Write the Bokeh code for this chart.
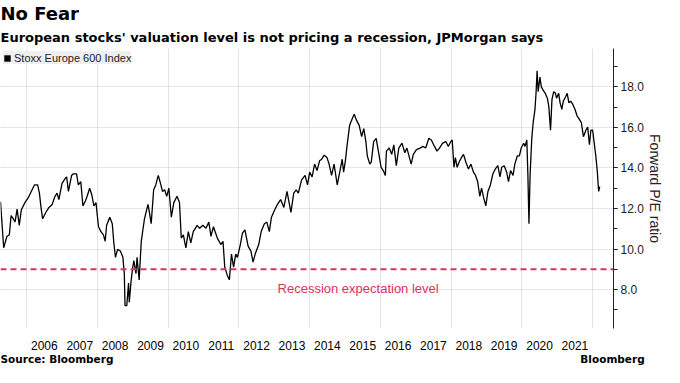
from bokeh.plotting import figure
from bokeh.models import (Range1d, FixedTicker, SingleIntervalTicker, NumeralTickFormatter,
                          Span, Label, Title, Legend, LegendItem, LinearAxis)
from bokeh.embed import file_html
from bokeh.resources import INLINE

# ---- data (decimal years, forward P/E) ----
dates = [
    2005.26, 2005.35, 2005.44, 2005.51, 2005.56, 2005.62, 2005.67, 2005.73, 2005.79, 2005.85,
    2005.95, 2006.04, 2006.13, 2006.22, 2006.31, 2006.36, 2006.40, 2006.45, 2006.54, 2006.63,
    2006.72, 2006.80, 2006.86, 2006.91, 2007.00, 2007.09, 2007.13, 2007.18, 2007.27, 2007.32,
    2007.41, 2007.46, 2007.53, 2007.59, 2007.66, 2007.71, 2007.78, 2007.84, 2007.90, 2007.96,
    2008.03, 2008.10, 2008.17, 2008.22, 2008.26, 2008.35, 2008.42, 2008.46, 2008.51, 2008.57,
    2008.65, 2008.72, 2008.76, 2008.78, 2008.83, 2008.88, 2008.90, 2008.95, 2009.00, 2009.03,
    2009.09, 2009.12, 2009.18, 2009.24, 2009.29, 2009.33, 2009.43, 2009.47, 2009.52, 2009.59,
    2009.65, 2009.72, 2009.77, 2009.84, 2009.90, 2009.96, 2010.02, 2010.09, 2010.16, 2010.25,
    2010.32, 2010.37, 2010.43, 2010.50, 2010.57, 2010.64, 2010.71, 2010.82, 2010.89, 2010.98,
    2011.07, 2011.15, 2011.21, 2011.28, 2011.39, 2011.49, 2011.55, 2011.60, 2011.67, 2011.73,
    2011.79, 2011.85, 2011.91, 2011.96, 2012.04, 2012.10, 2012.17, 2012.26, 2012.34, 2012.40,
    2012.46, 2012.56, 2012.63, 2012.72, 2012.79, 2012.86, 2012.92, 2013.00, 2013.09, 2013.18,
    2013.27, 2013.36, 2013.47, 2013.55, 2013.62, 2013.68, 2013.77, 2013.87, 2013.94, 2014.00,
    2014.07, 2014.14, 2014.21, 2014.28, 2014.34, 2014.41, 2014.49, 2014.55, 2014.62, 2014.69,
    2014.78, 2014.85, 2014.92, 2014.96, 2015.01, 2015.06, 2015.13, 2015.20, 2015.26, 2015.33,
    2015.40, 2015.47, 2015.53, 2015.59, 2015.63, 2015.70, 2015.74, 2015.81, 2015.88, 2015.95,
    2016.02, 2016.08, 2016.14, 2016.17, 2016.25, 2016.32, 2016.38, 2016.45, 2016.52, 2016.61,
    2016.69, 2016.75, 2016.82, 2016.87, 2016.93, 2017.02, 2017.12, 2017.21, 2017.28, 2017.37,
    2017.44, 2017.53, 2017.60, 2017.67, 2017.76, 2017.85, 2017.92, 2017.99, 2018.03, 2018.08,
    2018.12, 2018.17, 2018.22, 2018.29, 2018.35, 2018.42, 2018.49, 2018.56, 2018.63, 2018.69,
    2018.75, 2018.81, 2018.86, 2018.92, 2018.98, 2019.04, 2019.11, 2019.18, 2019.25, 2019.32,
    2019.38, 2019.43, 2019.50, 2019.57, 2019.62, 2019.68, 2019.75, 2019.80, 2019.87, 2019.93,
    2019.98, 2020.05, 2020.09, 2020.14, 2020.17, 2020.20, 2020.23, 2020.28, 2020.32, 2020.37,
    2020.40, 2020.43, 2020.46, 2020.51, 2020.55, 2020.60, 2020.66, 2020.72, 2020.76, 2020.81,
    2020.85, 2020.90, 2020.95, 2020.98, 2021.04, 2021.08, 2021.13, 2021.17, 2021.24, 2021.28,
    2021.33, 2021.38, 2021.44, 2021.50, 2021.56, 2021.62, 2021.68, 2021.74, 2021.81, 2021.86,
    2021.91, 2021.95, 2022.00, 2022.04, 2022.09, 2022.13, 2022.17, 2022.20,
]
pe = [
    12.33, 10.06, 10.62, 10.70, 11.65, 11.50, 11.33, 11.97, 11.17, 11.94,
    12.29, 12.52, 12.84, 13.16, 13.16, 12.76, 12.13, 11.49, 11.80, 12.05,
    12.20, 12.60, 12.76, 12.44, 13.24, 13.48, 13.56, 12.84, 13.63, 13.71,
    13.71, 13.16, 13.32, 12.13, 12.37, 12.60, 13.00, 12.68, 12.13, 12.29,
    11.10, 10.86, 10.70, 10.38, 11.17, 11.57, 11.25, 10.38, 9.59, 9.98,
    9.90, 9.59, 8.79, 7.21, 7.21, 8.32, 7.37, 8.40, 9.11, 9.43,
    8.79, 9.59, 8.48, 10.38, 11.00, 11.49, 12.20, 11.81, 11.25, 12.92,
    13.16, 13.63, 13.32, 12.84, 12.92, 12.60, 13.00, 11.57, 12.29, 12.60,
    12.29, 10.54, 10.70, 10.06, 10.86, 10.30, 10.86, 11.17, 11.02, 11.17,
    11.02, 11.33, 10.62, 11.10, 10.54, 10.22, 10.38, 9.11, 8.71, 8.48,
    9.75, 9.11, 9.75, 9.59, 10.22, 10.78, 10.94, 10.14, 9.90, 9.35,
    9.75, 10.22, 10.86, 11.25, 11.33, 10.86, 11.57, 11.89, 12.20, 12.44,
    12.05, 12.84, 11.81, 12.76, 12.92, 12.76, 13.40, 13.63, 13.16, 13.79,
    13.56, 14.19, 13.87, 14.35, 14.43, 14.63, 14.51, 14.19, 13.63, 14.19,
    13.16, 13.79, 14.43, 13.79, 14.35, 15.14, 16.10, 16.41, 16.65, 16.33,
    16.10, 15.54, 15.94, 15.30, 14.59, 14.19, 14.27, 15.30, 15.46, 14.75,
    14.03, 13.87, 13.63, 14.83, 14.98, 14.67, 15.14, 14.11, 14.98, 15.22,
    14.75, 14.98, 14.51, 14.19, 14.67, 14.90, 14.98, 15.06, 14.98, 15.46,
    15.38, 15.06, 14.83, 14.98, 15.22, 15.30, 15.06, 15.30, 15.38, 14.03,
    14.51, 14.03, 14.27, 14.51, 14.67, 14.27, 13.95, 14.19, 13.79, 13.63,
    13.32, 12.60, 13.00, 12.52, 12.13, 12.84, 13.16, 13.71, 13.95, 14.11,
    13.56, 14.03, 14.11, 13.79, 13.32, 13.87, 13.63, 14.19, 14.59, 14.59,
    14.98, 15.22, 15.06, 15.38, 13.63, 11.25, 13.56, 15.46, 16.25, 16.89,
    17.68, 18.79, 17.76, 18.48, 18.00, 17.84, 17.68, 17.44, 17.05, 15.86,
    17.37, 17.76, 17.68, 17.44, 17.68, 17.21, 16.89, 17.29, 17.52, 17.68,
    17.21, 17.29, 17.13, 16.89, 16.57, 16.41, 16.25, 15.54, 15.86, 16.02,
    15.14, 15.86, 15.86, 15.30, 14.59, 13.87, 12.84, 13.08,
]
year_labels = ["2006", "2007", "2008", "2009", "2010", "2011", "2012", "2013",
               "2014", "2015", "2016", "2017", "2018", "2019", "2020", "2021"]
grid_years = [2006, 2008, 2010, 2012, 2014, 2016, 2018, 2020, 2022]
recession_level = 9.0
series_name = "Stoxx Europe 600 Index"
footer_texts = ["Source: Bloomberg", "Bloomberg"]

RED = "#d9345f"
FONT = "Liberation Sans"
NAN = float("nan")

p = figure(width=664, height=367, output_backend="svg", toolbar_location=None,
           x_range=Range1d(2005.26, 2022.59), y_range=Range1d(6.08, 19.89),
           y_axis_location="right", title="No Fear",
           min_border_left=0, min_border_right=0, min_border_top=0, min_border_bottom=0)
p.outline_line_color = None
p.background_fill_color = "white"

# titles
p.title.text_font = "DejaVu Sans"
p.title.text_font_size = "18px"
p.title.text_font_style = "bold"
p.title.align = "left"
p.title.standoff = 0
p.title.text_color = "black"
sub = Title(text="European stocks' valuation level is not pricing a recession, JPMorgan says",
            text_font="DejaVu Sans", text_font_size="13px", text_font_style="bold",
            align="left", standoff=8, text_color="black")
p.add_layout(sub, "above")

# line
p.line(dates, pe, line_color="black", line_width=1.3)

# recession level
p.add_layout(Span(location=recession_level, dimension="width", line_color=RED,
                  line_dash="6 4", line_width=2))
p.add_layout(Label(x=2015.37, y=8.05, text="Recession expectation level",
                   text_align="center", text_baseline="middle", text_color=RED,
                   text_font=FONT, text_font_size="13px"))

# legend with square swatch (swatch renderer has no visible data)
sw = p.quad(left=[NAN], right=[NAN], top=[NAN], bottom=[NAN],
            fill_color="black", line_color=None)
legend = Legend(items=[LegendItem(label=series_name, renderers=[sw])],
                location="top_left", margin=3, padding=5, spacing=0,
                glyph_width=8, glyph_height=8, label_height=13, label_standoff=3,
                label_text_font=FONT, label_text_font_size="11px", label_text_color="#222222",
                background_fill_color="#efefef", background_fill_alpha=1.0,
                border_line_color=None)
p.add_layout(legend)

# x axis (year labels centred in each year)
xa = p.xaxis[0]
tick_pos = [int(y) + 0.5 for y in year_labels]
xa.ticker = FixedTicker(ticks=tick_pos)
xa.major_label_overrides = {t: lab for t, lab in zip(tick_pos, year_labels)}
xa.axis_line_color = None
xa.major_tick_line_color = None
xa.minor_tick_line_color = None
xa.major_tick_out = 0
xa.major_tick_in = 0
xa.major_label_standoff = 12
xa.major_label_text_font = FONT
xa.major_label_text_font_size = "12px"
xa.major_label_text_color = "black"

p.xgrid.ticker = FixedTicker(ticks=grid_years)
p.xgrid.grid_line_color = "#e3e3e3"
p.xgrid.grid_line_width = 1

# footer row as a second bottom axis on a pixel-like range
p.extra_x_ranges = {"footer": Range1d(0, 620)}
fa = LinearAxis(x_range_name="footer")
fa.ticker = FixedTicker(ticks=[56, 619])
fa.major_label_overrides = {56: footer_texts[0], 619: footer_texts[1]}
fa.axis_line_color = None
fa.major_tick_line_color = None
fa.minor_tick_line_color = None
fa.major_tick_out = 0
fa.major_tick_in = 0
fa.major_label_standoff = 0
fa.major_label_text_font = "DejaVu Sans"
fa.major_label_text_font_size = "10.5px"
fa.major_label_text_font_style = "bold"
fa.major_label_text_color = "black"
p.add_layout(fa, "below")

# y axis
ya = p.yaxis[0]
ya.ticker = SingleIntervalTicker(interval=2, num_minor_ticks=2)
ya.formatter = NumeralTickFormatter(format="0.0")
ya.axis_line_color = "#222222"
ya.major_tick_line_color = "#222222"
ya.minor_tick_line_color = "#222222"
ya.major_tick_out = 4
ya.major_tick_in = 0
ya.minor_tick_out = 4
ya.minor_tick_in = 0
ya.major_label_standoff = 3
ya.major_label_text_font = FONT
ya.major_label_text_font_size = "12px"
ya.major_label_text_color = "#222222"

ylab = Title(text="Forward P/E ratio", text_font=FONT, text_font_size="14px",
             text_font_style="normal", text_color="#222222", align="center", standoff=0)
p.add_layout(ylab, "right")

p.ygrid.grid_line_color = "#cccccc"
p.ygrid.grid_line_dash = "1 1"

open("out.html", "w").write(file_html(p, INLINE))
